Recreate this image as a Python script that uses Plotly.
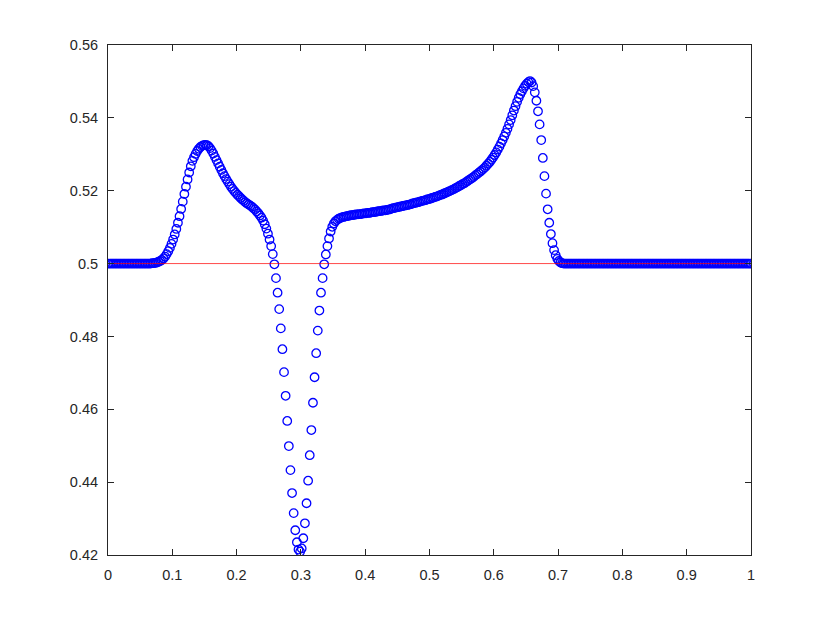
import plotly.graph_objects as go

N = 400
x_grid = [(i + 0.5) / N for i in range(N)]

flat_left = [0.5] * 26
rise_peak1 = [0.5000, 0.5001, 0.5001, 0.5002, 0.5003, 0.5005, 0.5007, 0.5010, 0.5014, 0.5019,
              0.5026, 0.5034, 0.5043, 0.5054, 0.5066, 0.5080, 0.5095, 0.5112, 0.5130, 0.5150,
              0.5170, 0.5191, 0.5211, 0.5231, 0.5250, 0.5267, 0.5282, 0.5292, 0.5301, 0.5309,
              0.5315, 0.5320, 0.5323, 0.5325, 0.5326, 0.5325]
shoulder = [0.5322, 0.5317, 0.5310, 0.5302, 0.5293, 0.5284, 0.5275, 0.5266, 0.5257, 0.5248,
            0.5240, 0.5232, 0.5225, 0.5218, 0.5211, 0.5205, 0.5199, 0.5194,
            0.5189, 0.5185, 0.5180, 0.5176, 0.5172, 0.5168, 0.5165, 0.5162, 0.5159, 0.5156]
dip_down = [0.5152, 0.5148, 0.5143, 0.5138, 0.5132, 0.5126, 0.5118, 0.5108, 0.5096, 0.5082,
            0.5066, 0.5048, 0.5026, 0.4998, 0.4960, 0.4920, 0.4875, 0.4822, 0.4765, 0.4702,
            0.4637, 0.4568, 0.4499, 0.4433, 0.4370, 0.4315, 0.4268, 0.4235, 0.4215, 0.4209]
dip_up = [0.4218, 0.4246, 0.4287, 0.4342, 0.4404, 0.4474, 0.4543, 0.4618, 0.4688, 0.4754,
          0.4816, 0.4871, 0.4920, 0.4960, 0.4998, 0.5025, 0.5048, 0.5069, 0.5088, 0.5101,
          0.5110, 0.5116, 0.5120, 0.5123, 0.5125, 0.5127, 0.5128, 0.5129, 0.5130, 0.5131]
plateau_rise = [0.5132, 0.5133, 0.5133, 0.5134, 0.5135, 0.5135, 0.5136, 0.5136, 0.5137, 0.5138,
                0.5138, 0.5139, 0.5139, 0.5140, 0.5141, 0.5141, 0.5142, 0.5143, 0.5144, 0.5144,
                0.5145, 0.5146, 0.5146, 0.5147, 0.5148, 0.5149, 0.5151, 0.5152, 0.5153, 0.5154,
                0.5155, 0.5156, 0.5157, 0.5158, 0.5159, 0.5160, 0.5161, 0.5162, 0.5163, 0.5165,
                0.5166, 0.5167, 0.5168, 0.5169, 0.5171, 0.5172, 0.5173, 0.5174, 0.5176, 0.5177,
                0.5178, 0.5180, 0.5181, 0.5183, 0.5184, 0.5186, 0.5188, 0.5189, 0.5191, 0.5193,
                0.5195, 0.5197, 0.5199, 0.5201, 0.5203, 0.5205, 0.5208, 0.5210, 0.5213, 0.5215,
                0.5218, 0.5220, 0.5223, 0.5226, 0.5229, 0.5232, 0.5235, 0.5238, 0.5242, 0.5245,
                0.5249, 0.5252, 0.5256, 0.5260, 0.5264, 0.5269, 0.5274, 0.5279, 0.5285, 0.5291,
                0.5298, 0.5305, 0.5313, 0.5321, 0.5330, 0.5339, 0.5349, 0.5359, 0.5370, 0.5382,
                0.5394, 0.5407, 0.5420, 0.5432, 0.5444, 0.5455, 0.5465, 0.5473, 0.5481, 0.5488,
                0.5494, 0.5498, 0.5501]
drop_peak2 = [0.5497, 0.5487, 0.5470, 0.5447, 0.5418, 0.5382, 0.5339, 0.5290, 0.5240, 0.5192,
              0.5149, 0.5112, 0.5081, 0.5056, 0.5037, 0.5023, 0.5013, 0.5007, 0.5003, 0.5001]
flat_right = [0.5] * 117

y_values = (flat_left + rise_peak1 + shoulder + dip_down + dip_up
            + plateau_rise + drop_peak2 + flat_right)

ref_x = [0, 1]
ref_y = [0.5, 0.5]

x_tick_vals = [0, 0.1, 0.2, 0.3, 0.4, 0.5, 0.6, 0.7, 0.8, 0.9, 1]
x_tick_text = ["0", "0.1", "0.2", "0.3", "0.4", "0.5", "0.6", "0.7", "0.8", "0.9", "1"]
y_tick_vals = [0.42, 0.44, 0.46, 0.48, 0.5, 0.52, 0.54, 0.56]
y_tick_text = ["0.42", "0.44", "0.46", "0.48", "0.5", "0.52", "0.54", "0.56"]

fig = go.Figure()
fig.add_trace(go.Scatter(
    x=x_grid[:len(y_values)], y=y_values, mode="markers",
    marker=dict(symbol="circle-open", size=8.5, color="rgb(0,0,255)",
                line=dict(width=1.3, color="rgb(0,0,255)")),
    showlegend=False, hoverinfo="x+y"))
fig.add_trace(go.Scatter(
    x=ref_x, y=ref_y, mode="lines",
    line=dict(color="rgb(255,0,0)", width=1),
    opacity=0.7,
    showlegend=False, hoverinfo="skip"))

axis_common = dict(
    showgrid=False, zeroline=False, showline=True, mirror="ticks",
    linecolor="#262626", linewidth=1, ticks="inside", ticklen=6,
    tickcolor="#262626", tickwidth=1,
    tickfont=dict(family="Liberation Sans, Arial, sans-serif", size=14.5, color="#262626"),
)

fig.update_layout(
    width=830, height=623,
    margin=dict(l=100, r=87, t=37, b=76),
    paper_bgcolor="white", plot_bgcolor="white",
    xaxis=dict(range=[0, 1], tickvals=x_tick_vals, ticktext=x_tick_text,
               ticklabelstandoff=7, **axis_common),
    yaxis=dict(range=[0.42, 0.56], tickvals=y_tick_vals, ticktext=y_tick_text,
               ticklabelstandoff=6, **axis_common),
)

fig.write_html("out.html")
